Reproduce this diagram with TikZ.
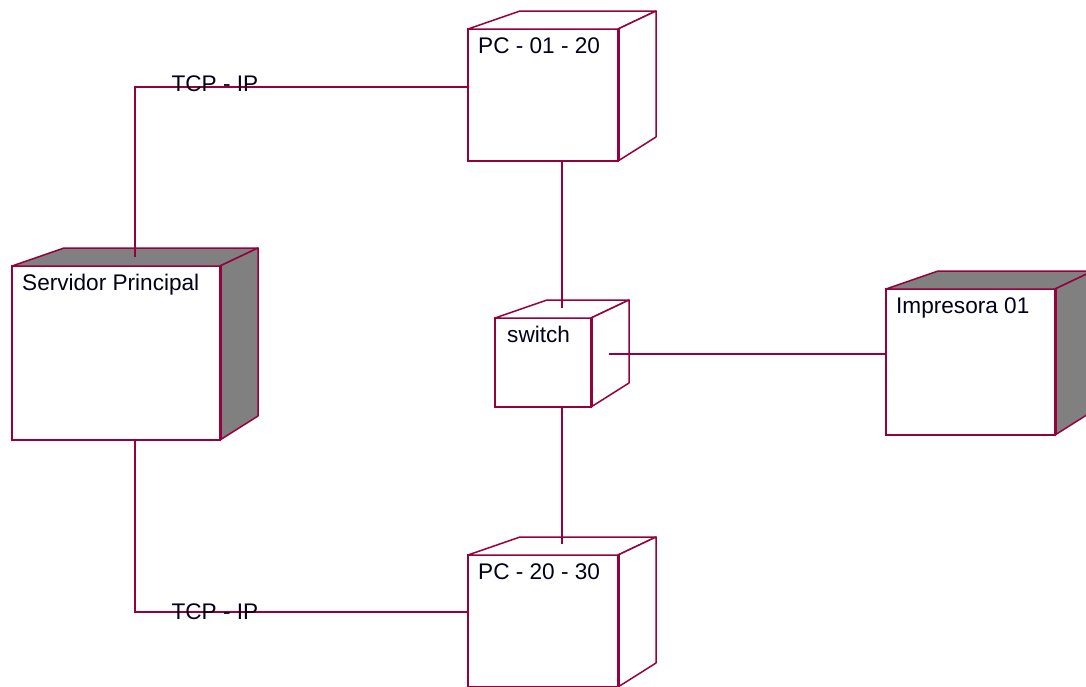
\documentclass[tikz,border=0pt]{standalone}
\usepackage{fontspec}
\setmainfont{Liberation Sans}
\usetikzlibrary{calc}

\definecolor{rosered}{RGB}{150,0,60}
\definecolor{boxgray}{RGB}{128,128,128}

\begin{document}
\begin{tikzpicture}[
  x=1pt, y=-1pt,
  font=\fontsize{22.6}{26}\selectfont,
  devface/.style={draw=rosered, line width=1.5pt, fill=white, inner sep=0pt, outer sep=0pt},
  devname/.style={anchor=base west, inner sep=0pt, text=black!90!blue},
  lbl/.style={inner sep=0pt, text=black!90!blue},
  conn/.style={draw=rosered, line width=1.5pt},
]
\useasboundingbox (0,0) rectangle (1086,686);
\clip (0,0) rectangle (1086,686);

% ---- nodes (front faces)
\node[devface, minimum width=208pt, minimum height=174pt] (srv) at (116,353) {};
\node[devface, minimum width=150pt, minimum height=132pt] (pc1) at (543,95) {};
\node[devface, minimum width=96pt, minimum height=89pt] (sw) at (543,362.5) {};
\node[devface, minimum width=169pt, minimum height=146pt] (prn) at (970.5,362) {};
\node[devface, minimum width=150pt, minimum height=132pt] (pc2) at (543,621) {};

% ---- depth (top and side faces)
\foreach \n/\c in {srv/boxgray, pc1/white, sw/white, prn/boxgray, pc2/white} {
  \draw[rosered, line width=1.5pt, fill=\c, line join=round]
    (\n.north west) -- ++(52,-18) -- ($(\n.north east)+(38,-18)$) -- (\n.north east) -- cycle;
  \draw[rosered, line width=1.5pt, fill=\c, line join=round]
    (\n.north east) -- ++(38,-18) -- ($(\n.south east)+(38,-24)$) -- (\n.south east) -- cycle;
  \draw[rosered, line width=3pt] (\n.north east) -- (\n.south east);
}

% ---- names
\node[devname] (srvt) at ($(srv.north west)+(10,24.5)$) {Servidor Principal};
\node[devname] (pc1t) at ($(pc1.north west)+(10,24.5)$) {PC - 01 - 20};
\node[devname] (swt) at ($(sw.north west)+(12,24.5)$) {switch};
\node[devname] (prnt) at ($(prn.north west)+(10,24.5)$) {Impresora 01};
\node[devname] (pc2t) at ($(pc2.north west)+(10,24.5)$) {PC - 20 - 30};

% ---- links
\draw[conn] ($(srv.north)+(19,-9)$) |- node[lbl, pos=0.62, yshift=3.5pt] (tcp1) {TCP - IP} ($(pc1.west)+(0,-8)$);
\draw[conn] ($(srv.south)+(19,0)$) |- node[lbl, pos=0.62, yshift=0.5pt] (tcp2) {TCP - IP} ($(pc2.west)+(0,-9)$);
\draw[conn] ($(pc1.south)+(19,0)$) -- ($(sw.north)+(19,-10)$);
\draw[conn] ($(sw.south)+(19,0)$) -- ($(pc2.north)+(19,-11)$);
\draw[conn] ($(sw.east)+(18,-8.5)$) -- ($(prn.west)+(0,-8)$);
\end{tikzpicture}
\end{document}
